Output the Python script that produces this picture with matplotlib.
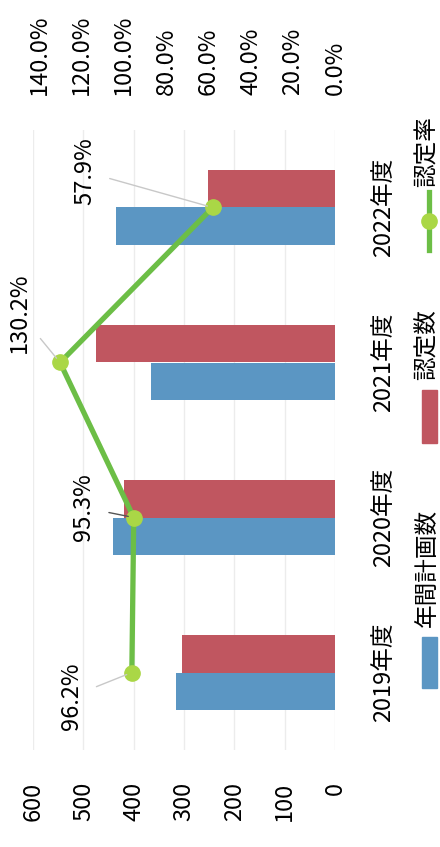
import numpy as np
import matplotlib
matplotlib.use('Agg')
import matplotlib.pyplot as plt
from matplotlib.patches import Rectangle
from matplotlib.lines import Line2D

plt.rcParams['font.family'] = ['Noto Sans CJK JP', 'DejaVu Sans']

# %%
# data
years = ['2019年度', '2020年度', '2021年度', '2022年度']
plan = [316, 441, 365, 435]        # 年間計画数
approved = [304, 420, 475, 252]    # 認定数
rate = [96.2, 95.3, 130.2, 57.9]   # 認定率 (%)
count_ticks = [0, 100, 200, 300, 400, 500, 600]
rate_ticks = [0, 20, 40, 60, 80, 100, 120, 140]

blue = '#5b96c3'
red = '#c05660'
green = '#6cbe46'
lime = '#aad746'

# %%
W, H = 440, 847
fig = plt.figure(figsize=(W / 100, H / 100), dpi=100)

# the chart is turned 90 deg: values grow to the left, years go bottom -> top
ax = fig.add_axes([33 / W, 1 - 750 / H, 302 / W, 620 / H])
y = np.arange(len(years))
bw = 0.24
ax.barh(y - bw / 2, plan, height=bw, color=blue, zorder=2)
ax.barh(y + bw / 2, approved, height=bw, color=red, zorder=2)
ax.set_xlim(600, 0)
ax.set_ylim(-0.5, len(years) - 0.5)
ax.set_xticks(count_ticks)
ax.set_xticklabels(count_ticks, rotation=90, fontsize=17)
ax.xaxis.grid(True, color='#ececec', lw=1)
ax.set_axisbelow(True)
ax.yaxis.tick_right()
ax.set_yticks(y)
ax.set_yticklabels(years, rotation=90, fontsize=17, va='center')
ax.tick_params(axis='x', length=0, pad=23)
ax.tick_params(axis='y', length=0, pad=27)
for s in ax.spines.values():
    s.set_visible(False)

# rate axis on top
ax2 = ax.twiny()
ax2.set_xlim(143, 0)
ax2.set_xticks(rate_ticks)
ax2.set_xticklabels([f'{t:.1f}%' for t in rate_ticks], rotation=90, fontsize=17)
ax2.tick_params(axis='x', length=0, pad=25)
for s in ax2.spines.values():
    s.set_visible(False)
ax2.plot(rate, y, color=green, lw=3.8, marker='o', ms=11, mfc=lime, mec=lime, zorder=3)

# data labels with leader lines
offsets = [(-60, -24), (-50, 10), (-41, 50), (-128, 36)]
line_cols = ['#c8c8c8', '#555555', '#c8c8c8', '#c8c8c8']
for i in range(len(years)):
    ax2.annotate(f'{rate[i]}%', (rate[i], y[i]), xytext=offsets[i],
                 textcoords='offset pixels', rotation=90, ha='center', va='center',
                 fontsize=17,
                 arrowprops=dict(arrowstyle='-', color=line_cols[i], lw=1,
                                 shrinkA=8, shrinkB=4))

# legend (turned as well)
fig.add_artist(Rectangle((422 / W, 1 - 688 / H), 15 / W, 51 / H,
                         transform=fig.transFigure, color=blue))
fig.text(427 / W, 1 - 568 / H, '年間計画数', rotation=90, ha='center', va='center', fontsize=17)
fig.add_artist(Rectangle((422 / W, 1 - 443 / H), 15 / W, 53 / H,
                         transform=fig.transFigure, color=red))
fig.text(427 / W, 1 - 345 / H, '認定数', rotation=90, ha='center', va='center', fontsize=17)
fig.add_artist(Line2D([429 / W, 429 / W], [1 - 250 / H, 1 - 192 / H],
                      transform=fig.transFigure, color=green, lw=3.8))
fig.add_artist(Line2D([429 / W], [1 - 221 / H], transform=fig.transFigure,
                      marker='o', ms=11, mfc=lime, mec=lime, lw=0))
fig.text(427 / W, 1 - 152 / H, '認定率', rotation=90, ha='center', va='center', fontsize=17)

fig.savefig('out.png', dpi=100)
